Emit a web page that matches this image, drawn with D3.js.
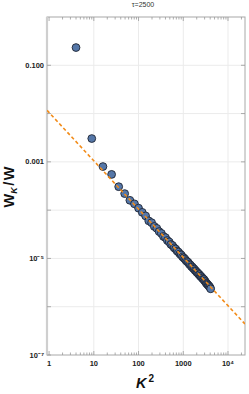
<!DOCTYPE html>
<html><head><meta charset="utf-8">
<script src="https://cdn.jsdelivr.net/npm/d3@7"></script>
<style>body{margin:0;background:#fff}svg{display:block}</style>
</head><body>
<script>
const title = "τ=2500";
// K^2 values (K = 2..64) and spectral weight W_K/W
const k2 = [4,9,16,25,36,49,64,81,100,121,144,169,196,225,256,289,324,361,400,441,484,529,576,625,676,729,784,841,900,961,1024,1089,1156,1225,1296,1369,1444,1521,1600,1681,1764,1849,1936,2025,2116,2209,2304,2401,2500,2601,2704,2809,2916,3025,3136,3249,3364,3481,3600,3721,3844,3969,4096];
const wk = [0.233,0.00304,0.0008,0.00055,3.06e-4,2.2e-4,1.6e-4,1.35e-4,1.1e-4,9.0e-5,7.6e-5,6.0e-5,5.5e-5,4.6e-5,4.2e-5,3.6e-5,3.3e-5,2.85e-5,2.7e-5,2.35e-5,2.2e-5,1.95e-5,1.85e-5,1.66e-5,1.57e-5,1.42e-5,1.35e-5,1.24e-5,1.18e-5,1.08e-5,1.03e-5,9.7e-6,9.0e-6,8.6e-6,8.2e-6,7.6e-6,7.3e-6,6.8e-6,6.6e-6,6.2e-6,6.0e-6,5.6e-6,5.45e-6,5.1e-6,5.0e-6,4.7e-6,4.6e-6,4.3e-6,4.25e-6,4.0e-6,3.9e-6,3.7e-6,3.65e-6,3.4e-6,3.3e-6,3.1e-6,3.0e-6,2.9e-6,2.8e-6,2.7e-6,2.6e-6,2.5e-6,2.35e-6];
// power-law fit: W_K/W = A * (K^2)^p
const fitA = 0.0105, fitP = -1.0;
const fitX = [0.9, 24000];
const xTickVals = [1,10,100,1000,10000];
const xTickLabels = ["1","10","100","1000","10⁴"];
const yTickVals = [0.1,0.001,1e-5,1e-7];
const yTickLabels = ["0.100","0.001","10⁻⁵","10⁻⁷"];
const yGridVals = [0.1,0.01,0.001,1e-4,1e-5,1e-6];

const W = 249, H = 394;
const m = {l:47, r:4, t:17, b:39};
const svg = d3.select("body").append("svg").attr("width",W).attr("height",H)
  .style("font-family","Liberation Sans, Arial, sans-serif");
const x = d3.scaleLog().domain([0.898, 24000]).range([m.l, W-m.r]);
const y = d3.scaleLog().domain([1e-7, 1]).range([H-m.b, m.t]);
const x0 = m.l, x1 = W-m.r, y0 = H-m.b, y1 = m.t;

// grid
svg.append("g").selectAll("line").data(xTickVals.slice(1)).join("line")
  .attr("x1",d=>x(d)).attr("x2",d=>x(d)).attr("y1",y1).attr("y2",y0)
  .attr("stroke","#ebebeb").attr("stroke-width",1);
svg.append("g").selectAll("line").data(yGridVals).join("line")
  .attr("y1",d=>y(d)).attr("y2",d=>y(d)).attr("x1",x0).attr("x2",x1)
  .attr("stroke","#ebebeb").attr("stroke-width",1);

// frame
svg.append("rect").attr("x",x0).attr("y",y1).attr("width",x1-x0).attr("height",y0-y1)
  .attr("fill","none").attr("stroke","#a8a8a8").attr("stroke-width",1);
svg.append("line").attr("x1",x0).attr("x2",x0).attr("y1",y1).attr("y2",y0)
  .attr("stroke","#cfcfcf").attr("stroke-width",2.2);

// minor & major x ticks (inward, top & bottom)
const xMinor = [];
for (let e=0;e<=4;e++) for (let k=1;k<=9;k++){const v=k*Math.pow(10,e); if(v<=24000) xMinor.push(v);}
svg.append("g").selectAll("line").data(xMinor).join("line")
  .attr("x1",d=>x(d)).attr("x2",d=>x(d)).attr("y1",y0).attr("y2",d=>y0-(xTickVals.includes(d)?4:2.5))
  .attr("stroke","#999").attr("stroke-width",0.8);
svg.append("g").selectAll("line").data(xMinor).join("line")
  .attr("x1",d=>x(d)).attr("x2",d=>x(d)).attr("y1",y1).attr("y2",d=>y1+(xTickVals.includes(d)?4:2.5))
  .attr("stroke","#999").attr("stroke-width",0.8);
// y ticks
svg.append("g").selectAll("line").data(yGridVals.concat([1e-7])).join("line")
  .attr("y1",d=>y(d)).attr("y2",d=>y(d)).attr("x1",x0).attr("x2",x0+4)
  .attr("stroke","#999").attr("stroke-width",0.8);
svg.append("g").selectAll("line").data(yGridVals).join("line")
  .attr("y1",d=>y(d)).attr("y2",d=>y(d)).attr("x1",x1).attr("x2",x1-4)
  .attr("stroke","#999").attr("stroke-width",0.8);

// tick labels
svg.append("g").selectAll("text").data(xTickVals).join("text")
  .attr("x",d=>x(d)).attr("y",y0+11).attr("text-anchor","middle")
  .attr("font-size",7.5).attr("font-weight","bold").attr("fill","#222")
  .text((d,i)=>xTickLabels[i]);
svg.append("g").selectAll("text").data(yTickVals).join("text")
  .attr("x",x0-3).attr("y",d=>y(d)+2.5).attr("text-anchor","end")
  .attr("font-size",7.5).attr("font-weight","bold").attr("fill","#222")
  .text((d,i)=>yTickLabels[i]);

// clip
svg.append("clipPath").attr("id","c").append("rect")
  .attr("x",x0).attr("y",y1).attr("width",x1-x0).attr("height",y0-y1);

// points
svg.append("g").attr("clip-path","url(#c)").selectAll("circle").data(k2).join("circle")
  .attr("cx",d=>x(d)).attr("cy",(d,i)=>y(wk[i])).attr("r",3.9)
  .attr("fill","#5577a8").attr("stroke","#1e2533").attr("stroke-width",0.9);

// fit line
const line = d3.line().x(d=>x(d)).y(d=>y(fitA*Math.pow(d,fitP)));
svg.append("path").attr("clip-path","url(#c)").datum(fitX).attr("d",line)
  .attr("fill","none").attr("stroke","#f28c1a").attr("stroke-width",1.6)
  .attr("stroke-dasharray","3.5,2.5");

// title
svg.append("text").attr("x",143).attr("y",7).attr("text-anchor","middle")
  .attr("font-size",7).attr("fill","#333").text(title);

// axis labels
svg.append("text").attr("x",145).attr("y",388).attr("text-anchor","middle")
  .attr("font-size",14.5).attr("font-weight","bold").attr("font-style","italic").attr("fill","#111")
  .html('K<tspan dx="2" dy="-6" font-size="10" font-style="normal">2</tspan>');
const yl = svg.append("text").attr("transform","translate(13.5,187) rotate(-90)")
  .attr("text-anchor","middle").attr("font-size",14.5).attr("font-weight","bold").attr("fill","#111");
yl.append("tspan").text("W");
yl.append("tspan").attr("font-size",9).attr("dy",3).attr("font-style","italic").text("K");
yl.append("tspan").attr("dy",-3).attr("dx",1.5).text("/");
yl.append("tspan").attr("dx",1.5).text("W");
</script>
</body></html>
